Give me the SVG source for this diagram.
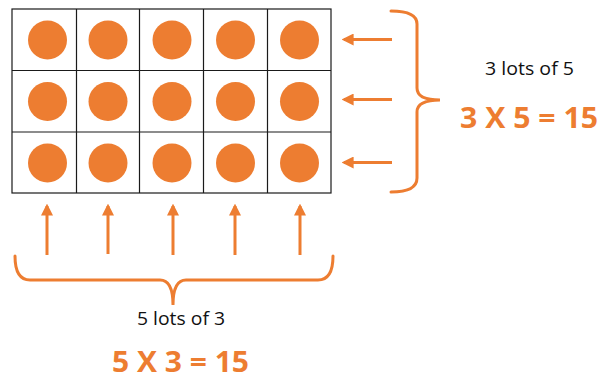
<svg xmlns="http://www.w3.org/2000/svg" width="603" height="381" viewBox="0 0 603 381">
<defs>
<style>
.cell{fill:#fff;stroke:#1a1a1a;stroke-width:1.2}
.dot{fill:#ED7D31}
.arr{stroke:#ED7D31;stroke-width:3;fill:none}
.brace{stroke:#ED7D31;stroke-width:3;fill:none;stroke-linecap:round}
.lbl{font-family:"Open Sans",sans-serif;font-size:18px;fill:#111}
.eq{font-family:"Open Sans",sans-serif;font-size:28px;font-weight:bold;fill:#ED7D31}
</style>
<marker id="ah" viewBox="0 0 10 10" refX="8" refY="5" markerWidth="4" markerHeight="4" orient="auto" markerUnits="strokeWidth">
<path d="M0,0 L10,5 L0,10 Z" fill="#ED7D31"/>
</marker>
</defs>
<g id="grid">
<rect class="cell" x="12" y="9" width="319" height="184"/>
<path d="M76.5,9V193M139.5,9V193M203.5,9V193M267.5,9V193M12,70.5H331M12,132H331" stroke="#1a1a1a" stroke-width="1.2"/>
</g>
<g id="dots">
<circle class="dot" cx="47.5" cy="40" r="19.5"/><circle class="dot" cx="108" cy="40" r="19.5"/><circle class="dot" cx="172" cy="40" r="19.5"/><circle class="dot" cx="235.5" cy="40" r="19.5"/><circle class="dot" cx="299.5" cy="40" r="19.5"/>
<circle class="dot" cx="47.5" cy="101.5" r="19.5"/><circle class="dot" cx="108" cy="101.5" r="19.5"/><circle class="dot" cx="172" cy="101.5" r="19.5"/><circle class="dot" cx="235.5" cy="101.5" r="19.5"/><circle class="dot" cx="299.5" cy="101.5" r="19.5"/>
<circle class="dot" cx="47.5" cy="163" r="19.5"/><circle class="dot" cx="108" cy="163" r="19.5"/><circle class="dot" cx="172" cy="163" r="19.5"/><circle class="dot" cx="235.5" cy="163" r="19.5"/><circle class="dot" cx="299.5" cy="163" r="19.5"/>
</g>
<g id="connectors">
<line class="arr" x1="392" y1="39.5" x2="344" y2="39.5" marker-end="url(#ah)"/>
<line class="arr" x1="392" y1="99.5" x2="344" y2="99.5" marker-end="url(#ah)"/>
<line class="arr" x1="392" y1="162.5" x2="344" y2="162.5" marker-end="url(#ah)"/>
<line class="arr" x1="47" y1="255" x2="47" y2="206" marker-end="url(#ah)"/>
<line class="arr" x1="108" y1="254" x2="108" y2="206" marker-end="url(#ah)"/>
<line class="arr" x1="173" y1="255" x2="173" y2="206" marker-end="url(#ah)"/>
<line class="arr" x1="235" y1="255" x2="235" y2="206" marker-end="url(#ah)"/>
<line class="arr" x1="300" y1="255" x2="300" y2="206" marker-end="url(#ah)"/>
</g>
<g id="brace-right">
<path class="brace" d="M391,11 Q417,11 417,24 V88 Q417,100 440,100 Q417,100 417,112 V178 Q417,192 391,192"/>
</g>
<g id="brace-bottom">
<path class="brace" d="M15,256 Q15,280 30,280 H160 Q173,280 173,305 Q173,280 186,280 H318 Q333,280 333,256"/>
</g>
<g id="label-right">
<text class="lbl" x="485" y="75" textLength="89" lengthAdjust="spacingAndGlyphs">3 lots of 5</text>
<text class="eq" x="460" y="128" textLength="138" lengthAdjust="spacingAndGlyphs">3 X 5 = 15</text>
</g>
<g id="label-bottom">
<text class="lbl" x="137" y="325" textLength="88" lengthAdjust="spacingAndGlyphs">5 lots of 3</text>
<text class="eq" x="112" y="372" textLength="137" lengthAdjust="spacingAndGlyphs">5 X 3 = 15</text>
</g>
</svg>
